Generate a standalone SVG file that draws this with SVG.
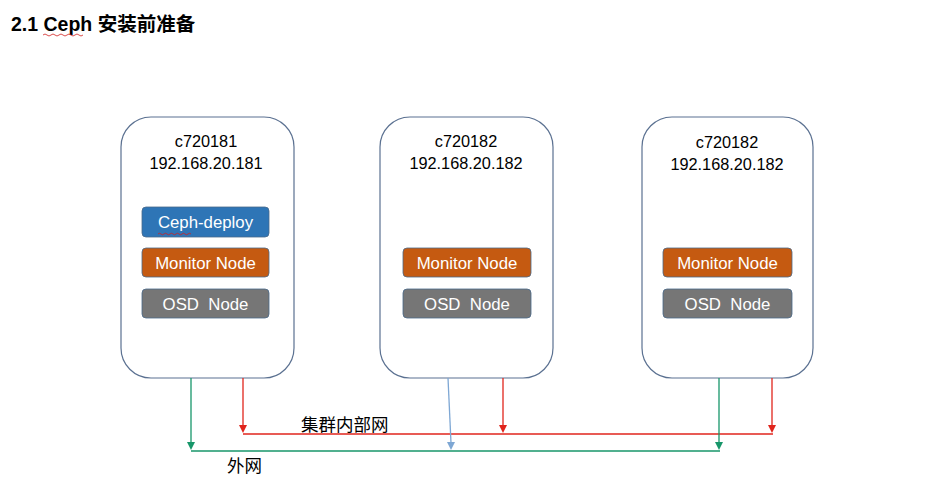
<svg xmlns="http://www.w3.org/2000/svg" width="928" height="504" viewBox="0 0 928 504">
<style>
.host{fill:#fff;stroke:#5b7191;stroke-width:1.2}
.lbl{font-family:"Liberation Sans","Open Sans",sans-serif;font-size:16.3px;fill:#000;text-anchor:middle}
.inner{stroke:#4a6a8a;stroke-width:0.8}
.itxt{font-family:"Liberation Sans","Open Sans",sans-serif;font-size:16.8px;fill:#fff;text-anchor:middle}
.cn{font-family:"Noto Sans CJK SC",sans-serif;font-size:17.5px;fill:#000}
.red{stroke:#e0251c;stroke-width:1.3;fill:none}
.grn{stroke:#17966a;stroke-width:1.3;fill:none}
.blu{stroke:#7ea7d4;stroke-width:1.3;fill:none}
.wavy{stroke:#d02020;stroke-width:0.8;fill:none}
</style>
<rect width="928" height="504" fill="#fff"/>
<text x="11" y="31" font-family="'Liberation Sans','Noto Sans CJK SC',sans-serif" font-size="19.5" font-weight="bold" fill="#000">2.1 Ceph 安装前准备</text>
<path class="wavy" d="M43,35 q2,-2 4,0 t4,0 t4,0 t4,0 t4,0 t4,0 t4,0 t4,0 t4,0 t4,0"/>

<g id="host1">
<rect class="host" x="121" y="117" width="173" height="261" rx="30"/>
<text class="lbl" x="206" y="147">c720181</text>
<text class="lbl" x="206" y="169">192.168.20.181</text>
<g id="ceph-deploy"><rect class="inner" x="142" y="207" width="127" height="30" rx="4" fill="#2e75b6"/><text class="itxt" x="205.5" y="228">Ceph-deploy</text>
<path class="wavy" d="M158,234 q1.5,-1.5 3,0 t3,0 t3,0 t3,0 t3,0 t3,0 t3,0 t3,0 t3,0 t3,0 t3,0"/></g>
<g id="mon1"><rect class="inner" x="142" y="248" width="127" height="29" rx="4" fill="#c55a11"/><text class="itxt" x="205.5" y="269">Monitor Node</text></g>
<g id="osd1"><rect class="inner" x="142" y="289" width="127" height="29" rx="4" fill="#767676"/><text class="itxt" x="205.5" y="310" xml:space="preserve">OSD  Node</text></g>
</g>

<g id="host2">
<rect class="host" x="380" y="117" width="173" height="261" rx="30"/>
<text class="lbl" x="466" y="147">c720182</text>
<text class="lbl" x="466" y="169">192.168.20.182</text>
<g id="mon2"><rect class="inner" x="403" y="248" width="128" height="29" rx="4" fill="#c55a11"/><text class="itxt" x="467" y="269">Monitor Node</text></g>
<g id="osd2"><rect class="inner" x="403" y="289" width="128" height="29" rx="4" fill="#767676"/><text class="itxt" x="467" y="310" xml:space="preserve">OSD  Node</text></g>
</g>

<g id="host3">
<rect class="host" x="642" y="117" width="171" height="261" rx="30"/>
<text class="lbl" x="727" y="148">c720182</text>
<text class="lbl" x="727" y="170">192.168.20.182</text>
<g id="mon3"><rect class="inner" x="663" y="248" width="129" height="29" rx="4" fill="#c55a11"/><text class="itxt" x="727.5" y="269">Monitor Node</text></g>
<g id="osd3"><rect class="inner" x="663" y="289" width="129" height="29" rx="4" fill="#767676"/><text class="itxt" x="727.5" y="310" xml:space="preserve">OSD  Node</text></g>
</g>

<g id="connectors">
<line class="red" x1="243" y1="434" x2="773" y2="434"/>
<line class="grn" x1="191" y1="451" x2="720" y2="451"/>
<line class="grn" x1="191" y1="378" x2="191" y2="443"/><path d="M187,442 L195,442 L191,450 Z" fill="#17966a"/>
<line class="red" x1="243" y1="378" x2="243" y2="426"/><path d="M239,425 L247,425 L243,433 Z" fill="#e0251c"/>
<line class="blu" x1="448" y1="378" x2="451" y2="443"/><path d="M447,442 L455,442 L451,450 Z" fill="#7ea7d4"/>
<line class="red" x1="503" y1="378" x2="503" y2="426"/><path d="M499,425 L507,425 L503,433 Z" fill="#e0251c"/>
<line class="grn" x1="719" y1="378" x2="719" y2="443"/><path d="M715,442 L723,442 L719,450 Z" fill="#17966a"/>
<line class="red" x1="772" y1="378" x2="772" y2="426"/><path d="M768,425 L776,425 L772,433 Z" fill="#e0251c"/>
</g>
<text class="cn" x="301" y="431">集群内部网</text>
<text class="cn" x="227" y="472">外网</text>
</svg>
